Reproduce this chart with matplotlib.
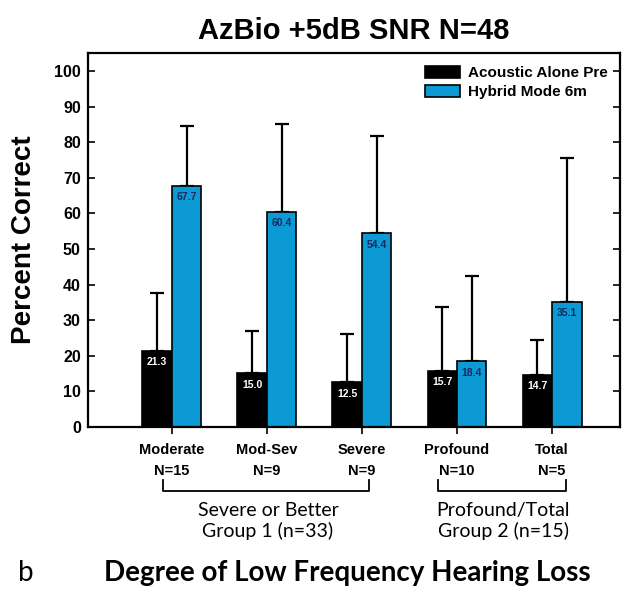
import matplotlib
matplotlib.use("Agg")
import matplotlib.pyplot as plt
import numpy as np

categories = ["Moderate", "Mod-Sev", "Severe", "Profound", "Total"]
n_labels = ["N=15", "N=9", "N=9", "N=10", "N=5"]
acoustic = [21.3, 15.0, 12.5, 15.7, 14.7]
hybrid = [67.7, 60.4, 54.4, 18.4, 35.1]
acoustic_err = [16.2, 12.0, 13.5, 18.0, 9.8]
hybrid_err = [16.8, 24.6, 27.4, 24.1, 40.6]
series_names = ["Acoustic Alone Pre", "Hybrid Mode 6m"]
group_labels = ["Severe or Better\nGroup 1 (n=33)", "Profound/Total\nGroup 2 (n=15)"]

plt.rcParams['font.family'] = ['Liberation Sans', 'DejaVu Sans']

fig = plt.figure(figsize=(6.27, 5.92), dpi=100)
ax = fig.add_axes([0.140, 0.279, 0.849, 0.631])

x = np.arange(1, len(categories) + 1)
w = 0.31
blue = '#0b9ad3'
ax.bar(x - w/2, acoustic, w, color='black', edgecolor='black', linewidth=1.2,
       label=series_names[0], zorder=2)
ax.bar(x + w/2, hybrid, w, color=blue, edgecolor='black', linewidth=1.2,
       label=series_names[1], zorder=2)
ax.errorbar(x - w/2, acoustic, yerr=[np.zeros(5), acoustic_err], fmt='none',
            ecolor='black', elinewidth=1.6, capsize=5, capthick=1.6, zorder=1)
ax.errorbar(x + w/2, hybrid, yerr=[np.zeros(5), hybrid_err], fmt='none',
            ecolor='black', elinewidth=1.6, capsize=5, capthick=1.6, zorder=1)

for xi, v in zip(x - w/2, acoustic):
    ax.text(xi, v - 3.2, f"{v:.1f}", ha='center', va='center', color='white',
            fontsize=7.5, fontweight='bold', zorder=3)
for xi, v in zip(x + w/2, hybrid):
    ax.text(xi, v - 3.2, f"{v:.1f}", ha='center', va='center', color='#1a2a5a',
            fontsize=7.5, fontweight='bold', zorder=3)

ax.set_xlim(0.116, 5.716)
ax.set_ylim(0, 105)
ax.set_yticks(np.arange(0, 101, 10))
ax.tick_params(axis='y', direction='in', length=5, width=1.2, labelsize=11.5,
               right=True, pad=5)
for lab in ax.get_yticklabels():
    lab.set_fontweight('bold')
ax.set_xticks(x)
ax.set_xticklabels([f"{c}\n{n}" for c, n in zip(categories, n_labels)],
                   fontsize=10.5, fontweight='bold', linespacing=1.55)
ax.tick_params(axis='x', direction='out', length=5, width=1.2, pad=7)
for s in ax.spines.values():
    s.set_linewidth(1.6)

ax.set_ylabel("Percent Correct", fontsize=20, fontweight='bold', labelpad=12)
ax.set_title("AzBio +5dB SNR N=48", fontsize=21, fontweight='bold', pad=10)

leg = ax.legend(loc='upper right', frameon=False,
                prop={'weight': 'bold', 'size': 11}, handlelength=2.3,
                handleheight=0.9, borderaxespad=0.4, labelspacing=0.3,
                handletextpad=0.5)

# brackets
def bracket(x0, x1, y0, y1):
    fig.lines.append(plt.Line2D([x0, x0, x1, x1], [y0, y1, y1, y0],
                                transform=fig.transFigure, color='black', lw=1.3))

H = 592.0; W = 627.0
bracket(163/W, 369/W, 1 - 480/H, 1 - 491/H)
bracket(438/W, 566/W, 1 - 480/H, 1 - 491/H)

fig.text(268/W, 1 - 521/H, group_labels[0], ha='center', va='center',
         fontsize=14, family=['Lato', 'DejaVu Sans'], linespacing=1.15)
fig.text(503/W, 1 - 521/H, group_labels[1], ha='center', va='center',
         fontsize=14, family=['Lato', 'DejaVu Sans'], linespacing=1.15)

fig.text(18/W, 1 - 573/H, "b", ha='left', va='center', fontsize=20,
         family=['Lato', 'DejaVu Sans'])
fig.text(347/W, 1 - 573/H, "Degree of Low Frequency Hearing Loss", ha='center',
         va='center', fontsize=20, fontweight='bold', family=['Lato', 'DejaVu Sans'])

fig.savefig("out.png", dpi=100)
